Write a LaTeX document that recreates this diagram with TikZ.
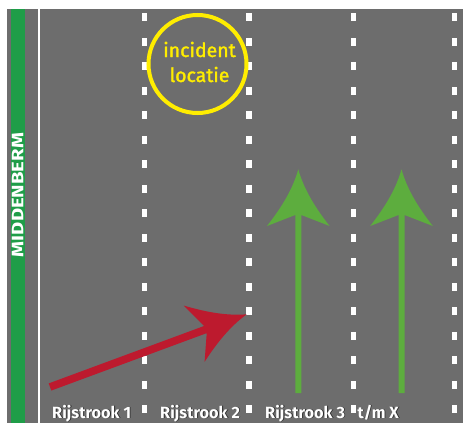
\documentclass[tikz,border=0pt]{standalone}
\usepackage{fontspec}
\setmainfont{Fira Sans}
\newfontfamily\incfont{Fira Sans}[FakeBold=1.6]
\definecolor{road}{HTML}{6D6D6D}
\definecolor{berm}{HTML}{1F9D48}
\definecolor{lgreen}{HTML}{5DAD3E}
\definecolor{redarrow}{HTML}{BD1A2E}
\definecolor{yel}{HTML}{FFED00}
\definecolor{shadow}{HTML}{2A2A2A}
\tikzset{
  dashmark/.style={fill=white},
  lanelabel/.style={anchor=base west, inner sep=0pt, text=white, font=\fontsize{16.3}{18}\selectfont\bfseries},
  lanelabelshadow/.style={lanelabel, text=shadow},
  inctext/.style={anchor=base, inner sep=0pt, text=yel, font=\fontsize{19.5}{22}\selectfont\incfont},
}
% tip x, tip y, angle, total length, colour, shaft half width, head length, head half width, notch depth
\newcommand\lanearrow[9]{%
  \begin{scope}[shift={(#1,#2)}, rotate=#3]
    \fill[#5] (0,0) .. controls (-18,5) and (-36,15) .. (-#7,#8)
      -- (-#9,#6) -- (-#4,#6) -- (-#4,-#6) -- (-#9,-#6) -- (-#7,-#8)
      .. controls (-36,-15) and (-18,-5) .. (0,0) -- cycle;
  \end{scope}}
\begin{document}
\begin{tikzpicture}[x=1pt,y=-1pt]
\useasboundingbox (0,0) rectangle (463,423);
% road surface
\fill[road] (7,9) rectangle (463,423);
% median strip
\fill[berm] (11,9) rectangle (25,423);
\fill[white] (37.7,9) rectangle (40,423);
\node[rotate=90, inner sep=0pt, text=white] (berm) at (17.5,195)
  {\resizebox{124pt}{11.5pt}{\bfseries MIDDENBERM}};
% lane dashes
\foreach \xc in {144.3,249,353.5,454.6}{
  \foreach \k in {0,...,16}{
    \fill[dashmark] ({\xc-2.8},{13.3+24.5*\k}) rectangle ({\xc+2.8},{21.3+24.5*\k});
  }
}
% incident location
\draw[yel, line width=4pt] (197.5,64) circle[radius=49];
\node[inctext] (inc1) at (199.5,57) {incident};
\node[inctext] (inc2) at (199.5,82) {locatie};
% arrows
\lanearrow{246.7}{314.3}{20.28}{209.7}{redarrow}{3.8}{56}{30}{44}
\lanearrow{298.3}{169.3}{90}{223.7}{lgreen}{3}{56.7}{31.3}{45.7}
\lanearrow{401.5}{169.3}{90}{223.7}{lgreen}{3}{56.7}{31.3}{45.7}
% lane labels
\foreach \nm/\xx/\tx in {l1/52/{Rijstrook 1}, l2/160/{Rijstrook 2}, l3/265/{Rijstrook 3}, l4/357.3/{t/m X}}{
  \node[lanelabelshadow] (\nm s) at (\xx+0.9,418.9) {\tx};
  \node[lanelabel] (\nm) at (\xx,418) {\tx};
}
\end{tikzpicture}
\end{document}
